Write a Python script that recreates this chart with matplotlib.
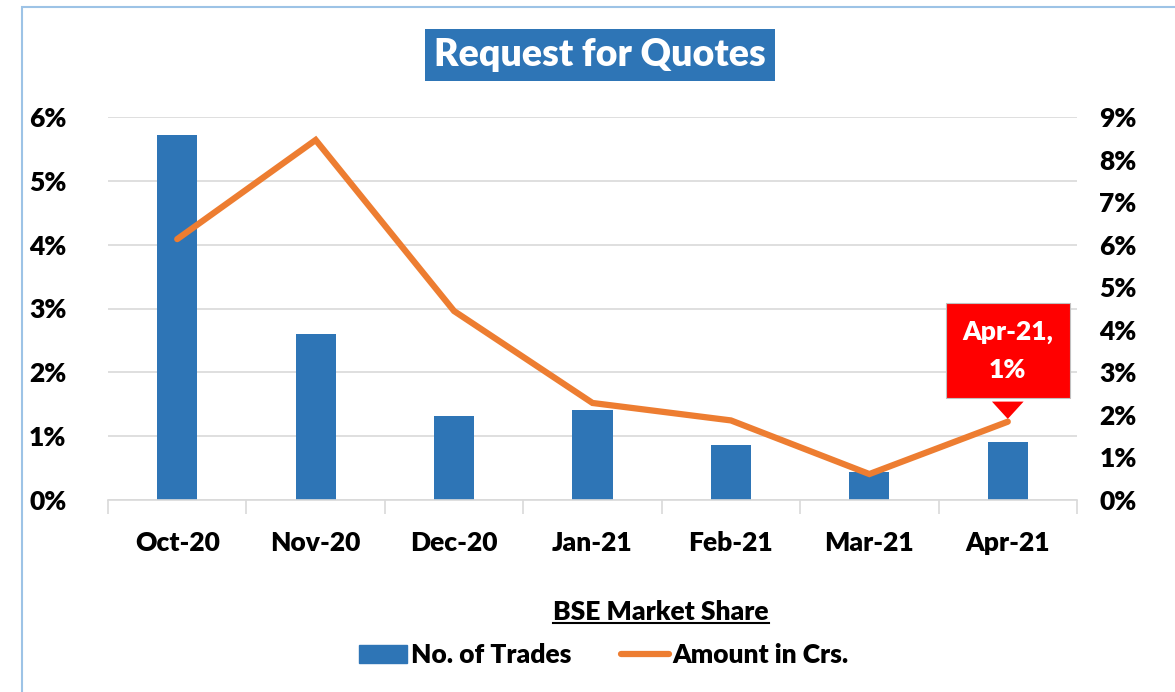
import matplotlib.pyplot as plt
from matplotlib.lines import Line2D
from matplotlib.patches import Rectangle, Patch
from matplotlib.ticker import FuncFormatter

plt.rcParams['font.family'] = ['Lato', 'DejaVu Sans']
plt.rcParams['font.weight'] = 'heavy'

months = ['Oct-20', 'Nov-20', 'Dec-20', 'Jan-21', 'Feb-21', 'Mar-21', 'Apr-21']
trades_share = [5.72, 2.60, 1.32, 1.41, 0.86, 0.44, 0.91]      # left axis, %
amount_share = [6.13, 8.46, 4.44, 2.28, 1.87, 0.61, 1.84]      # right axis, %
left_ticks = [0, 1, 2, 3, 4, 5, 6]
right_ticks = [0, 1, 2, 3, 4, 5, 6, 7, 8, 9]

blue = '#2E75B6'
orange = '#ED7D31'
grid_col = '#D9D9D9'
fs = 19

fig = plt.figure(figsize=(11.75, 6.92), dpi=100)

# outer chart border (light blue, runs off right/bottom edge)
fig.patches.append(Rectangle((22 / 1175, -0.1), 1.1, 0.99 + 0.1,
                             transform=fig.transFigure, fill=False,
                             ec='#9DC3E6', lw=1.5))

ax = fig.add_axes([108 / 1175, 1 - 500 / 692, 969 / 1175, 383 / 692])
x = list(range(len(months)))

ax.bar(x, trades_share, width=0.29, color=blue, zorder=2)
ax.set_ylim(0, 6)
ax.set_xlim(-0.5, len(months) - 0.5)
ax.set_yticks(left_ticks)
ax.yaxis.set_major_formatter(FuncFormatter(lambda v, p: f'{v:.0f}%'))
ax.grid(axis='y', color=grid_col, lw=1.2, zorder=0)
ax.set_axisbelow(True)
for s in ['top', 'right', 'left']:
    ax.spines[s].set_visible(False)
ax.spines['bottom'].set_color(grid_col)
ax.spines['bottom'].set_linewidth(1.2)
ax.tick_params(axis='y', length=0, pad=30, labelsize=fs)
ax.set_xticks(x)
ax.set_xticklabels(months)
ax.tick_params(axis='x', which='major', length=0, pad=22, labelsize=fs)
ax.set_xticks([i - 0.5 for i in range(len(months) + 1)], minor=True)
ax.tick_params(axis='x', which='minor', length=10, color=grid_col, width=1.2)

ax2 = ax.twinx()
ax2.plot(x, amount_share, color=orange, lw=4.5, solid_capstyle='round',
         solid_joinstyle='miter', zorder=3)
ax2.set_ylim(0, 9)
ax2.set_yticks(right_ticks)
ax2.yaxis.set_major_formatter(FuncFormatter(lambda v, p: f'{v:.0f}%'))
for s in ['top', 'right', 'left', 'bottom']:
    ax2.spines[s].set_visible(False)
ax2.tick_params(axis='y', length=0, pad=16, labelsize=fs)

# callout on last point
ax2.annotate('Apr-21,\n1%', xy=(x[-1], amount_share[-1]), xytext=(x[-1], 3.5),
             ha='center', va='center', color='white', fontsize=fs, fontweight='heavy',
             linespacing=1.7,
             bbox=dict(boxstyle='square,pad=0.62', fc='#FF0000', ec='#C0C0C0', lw=0.8),
             arrowprops=dict(arrowstyle='wedge,tail_width=1.2,shrink_factor=0.5',
                             fc='#FF0000', ec='none'), zorder=5)

# title
fig.text(600 / 1175, 1 - 55 / 692, 'Request for Quotes', ha='center', va='center',
         color='white', fontsize=27, fontweight='heavy',
         bbox=dict(boxstyle='square,pad=0.25', fc=blue, ec='none'))

# legend title with underline
lt = fig.text(661 / 1175, 1 - 612 / 692, 'BSE Market Share', ha='center', va='center',
              fontsize=fs, fontweight='heavy')
fig.canvas.draw()
bb = lt.get_window_extent().transformed(fig.transFigure.inverted())
fig.add_artist(Line2D([bb.x0, bb.x1], [bb.y0 + 0.002, bb.y0 + 0.002],
                      transform=fig.transFigure, color='black', lw=1.5))

handles = [Patch(color=blue, label='No. of Trades'),
           Line2D([0], [0], color=orange, lw=4.5, solid_capstyle='round', label='Amount in Crs.')]
fig.legend(handles=handles, loc='center', bbox_to_anchor=(604 / 1175, 1 - 655 / 692),
           ncol=2, frameon=False, fontsize=fs, handlelength=1.8, handletextpad=0.15,
           columnspacing=1.9)

fig.savefig('out.png', dpi=100)
